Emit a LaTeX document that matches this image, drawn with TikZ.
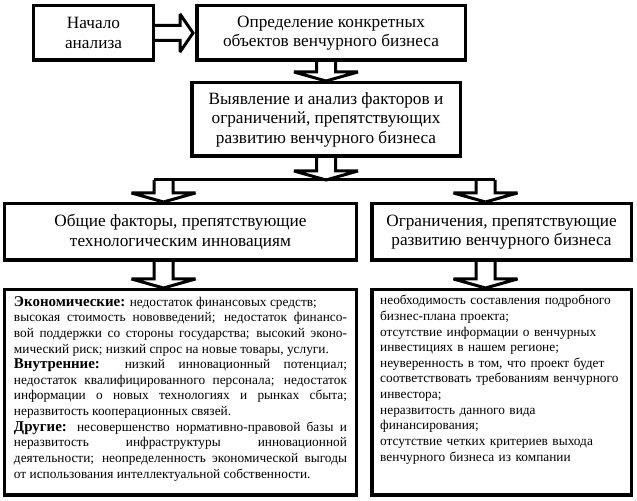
\documentclass[tikz,border=0pt]{standalone}
\usepackage{fontspec}
\setmainfont{Liberation Serif}
\usetikzlibrary{calc}

\setlength\parindent{0pt}
\setlength\parskip{5.5bp}
\hyphenpenalty=10000
\exhyphenpenalty=10000
\tolerance=10000

\tikzset{
  stage/.style={draw, line width=3.5bp, align=center, inner sep=0pt,
    font=\fontsize{17.3}{19.5}\selectfont},
  listbox/.style={draw, line width=3.5bp, inner sep=0pt},
  listtext/.style={inner sep=0pt, font=\fontsize{13.4}{15.7}\selectfont},
  hollow/.style={draw, line width=3bp, line join=miter, miter limit=3, line cap=square},
}

% hollow block arrow from #1 down to the tip #2
\newcommand{\hollowdown}[2]{%
  \draw[hollow] let \p1=#1, \p2=#2 in
    (\x2-9.5bp,\y1) -- (\x2-9.5bp,\y2+9bp) -- (\x2-32bp,\y2+9bp) -- (\x2,\y2)
    -- (\x2+32bp,\y2+9bp) -- (\x2+9.5bp,\y2+9bp) -- (\x2+9.5bp,\y1);}

\newcommand{\headfont}{\fontsize{15}{15.7}\selectfont\bfseries}

\begin{document}
\begin{tikzpicture}[x=1bp, y=1bp]
  \useasboundingbox (0,0) rectangle (637,501);
  % stages
  \node[stage, minimum width=119.5bp, minimum height=54.5bp] (start) at (93.5,468) {Начало\\анализа};
  \node[stage, minimum width=268.5bp, minimum height=54.5bp] (objects) at (331,468) {Определение конкретных\\объектов венчурного бизнеса};
  \node[stage, minimum width=268.5bp, minimum height=73.5bp] (analysis) at (326,381.5) {Выявление и анализ факторов и\\ограничений, препятствующих\\развитию венчурного бизнеса};
  \node[stage, minimum width=351.5bp, minimum height=56.5bp] (general) at (180.5,269) {Общие факторы, препятствующие\\технологическим инновациям};
  \node[stage, minimum width=259.5bp, minimum height=56.5bp] (limits) at (501.5,269) {Ограничения, препятствующие\\развитию венчурного бизнеса};
  % lists
  \node[listbox, minimum width=351.5bp, minimum height=205.5bp] (factors) at (180.5,108.5) {};
  \node[listbox, minimum width=259.5bp, minimum height=205.5bp] (limitlist) at (501.5,108.5) {};
  \node[listtext, text width=333bp, align=justify, anchor=north] (factortext) at ($(factors.north)+(0,-8)$) {%
    {\headfont Экономические:} недостаток финансовых средств;\newline
    высокая стоимость нововведений; недостаток финансо-\linebreak вой поддержки со стороны государства; высокий эконо-\linebreak мический риск; низкий спрос на новые товары, услуги.\par
    {\headfont Внутренние:} низкий инновационный потенциал;\linebreak
    недостаток квалифицированного персонала; недостаток\linebreak
    информации о новых технологиях и рынках сбыта;\linebreak
    неразвитость кооперационных связей.\par
    {\headfont Другие:} несовершенство нормативно-правовой базы и\linebreak
    неразвитость инфраструктуры инновационной\linebreak
    деятельности; неопределенность экономической выгоды\linebreak
    от использования интеллектуальной собственности.};
  \node[listtext, text width=248bp, align=left, anchor=north west] (limittext) at ($(limitlist.north west)+(10,-7)$) {%
    необходимость составления подробного\newline
    бизнес-плана проекта;\newline
    отсутствие информации о венчурных\newline
    инвестициях в нашем регионе;\newline
    неуверенность в том, что проект будет\newline
    соответствовать требованиям венчурного\newline
    инвестора;\newline
    неразвитость данного вида\newline
    финансирования;\newline
    отсутствие четких критериев выхода\newline
    венчурного бизнеса из компании};
  % arrows
  \draw[hollow] let \p1=(start.east), \p2=(objects.west) in
    (\x1,\y1+7.5bp) -- (\x2-15bp,\y1+7.5bp) -- (\x2-15bp,\y1+19bp) -- (\x2-2bp,\y1)
    -- (\x2-15bp,\y1-19bp) -- (\x2-15bp,\y1-7.5bp) -- (\x1,\y1-7.5bp);
  \hollowdown{(objects.south -| analysis.north)}{(analysis.north)}
  \coordinate (busleft) at (163.5,321);
  \coordinate (busright) at (485.5,321);
  \draw[hollow] ($(busleft)+(-9.5,0)$) -- ($(busright)+(9.5,0)$);
  \hollowdown{(analysis.south)}{(analysis.south |- busleft)}
  \hollowdown{(busleft)}{(busleft |- general.north)}
  \hollowdown{(busright)}{(busright |- limits.north)}
  \hollowdown{(general.south -| busleft)}{(busleft |- factors.north)}
  \hollowdown{(limits.south -| busright)}{(busright |- limitlist.north)}
\end{tikzpicture}
\end{document}
